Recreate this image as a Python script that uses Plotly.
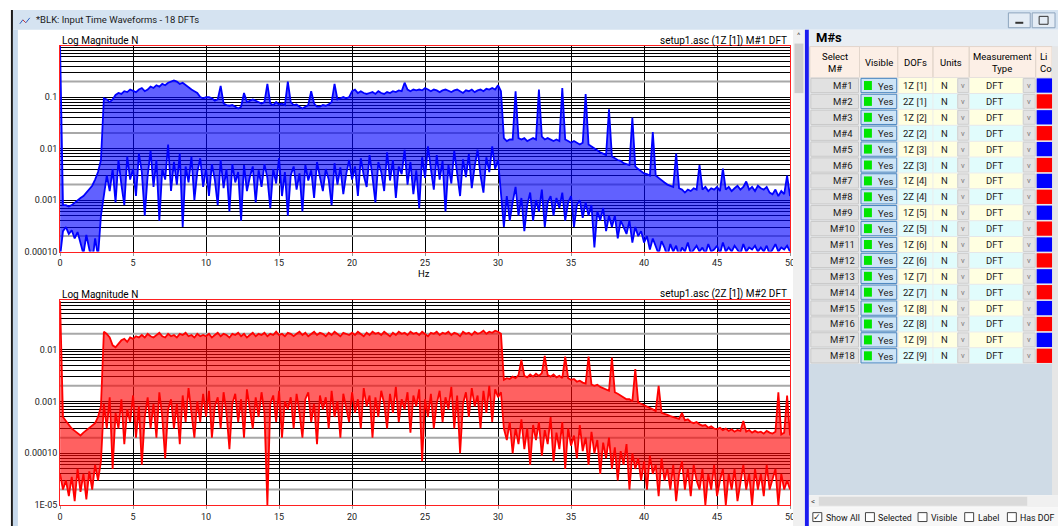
import plotly.graph_objects as go

W, H = 1063, 531
FONT = "Roboto, Noto Sans, sans-serif"

# ---------------- data ----------------
FREQ_STEP = 0.2  # Hz between spectral lines

TOP_UPPER = [
    1.0, 0.0008, 0.0008, 0.00075, 0.0008, 0.0009, 0.001, 0.0011, 0.0012, 0.0014,
    0.0016, 0.0019, 0.0025, 0.0035, 0.006, 0.095, 0.09, 0.08, 0.09, 0.11,
    0.12, 0.115, 0.13, 0.125, 0.14, 0.13, 0.125, 0.14, 0.15, 0.13,
    0.14, 0.16, 0.15, 0.17, 0.16, 0.18, 0.17, 0.19, 0.2, 0.21,
    0.2, 0.18, 0.19, 0.17, 0.15, 0.14, 0.13, 0.12, 0.1, 0.095,
    0.1, 0.1, 0.095, 0.085, 0.09, 0.165, 0.075, 0.07, 0.068, 0.07,
    0.065, 0.06, 0.065, 0.12, 0.08, 0.085, 0.09, 0.085, 0.08, 0.075,
    0.08, 0.18, 0.075, 0.07, 0.08, 0.072, 0.075, 0.07, 0.2, 0.08,
    0.07, 0.072, 0.065, 0.06, 0.065, 0.07, 0.13, 0.075, 0.065, 0.065,
    0.07, 0.068, 0.072, 0.08, 0.18, 0.09, 0.095, 0.1, 0.095, 0.1,
    0.13, 0.14, 0.12, 0.13, 0.12, 0.115, 0.12, 0.125, 0.115, 0.13,
    0.12, 0.115, 0.125, 0.12, 0.13, 0.125, 0.135, 0.13, 0.19, 0.14,
    0.13, 0.14, 0.135, 0.14, 0.135, 0.15, 0.14, 0.13, 0.14, 0.135,
    0.125, 0.135, 0.14, 0.13, 0.125, 0.135, 0.14, 0.13, 0.12, 0.135,
    0.13, 0.14, 0.125, 0.135, 0.14, 0.13, 0.145, 0.14, 0.15, 0.14,
    0.17, 0.13, 0.016, 0.014, 0.015, 0.015, 0.13, 0.016, 0.015, 0.016,
    0.014, 0.015, 0.016, 0.015, 0.14, 0.017, 0.015, 0.016, 0.015, 0.014,
    0.015, 0.014, 0.15, 0.015, 0.014, 0.013, 0.014, 0.013, 0.012, 0.013,
    0.115, 0.012, 0.011, 0.01, 0.009, 0.0085, 0.008, 0.0075, 0.058, 0.007,
    0.0065, 0.006, 0.0058, 0.0052, 0.005, 0.0048, 0.04, 0.0045, 0.004, 0.0036,
    0.0033, 0.0032, 0.003, 0.021, 0.003, 0.0027, 0.0024, 0.0022, 0.002, 0.0019,
    0.0018, 0.008, 0.0017, 0.0016, 0.0014, 0.0016, 0.0015, 0.0017, 0.0016, 0.0048,
    0.0016, 0.0018, 0.0015, 0.0017, 0.0016, 0.0018, 0.0015, 0.0041, 0.0016, 0.0018,
    0.0015, 0.0017, 0.0019, 0.0016, 0.0018, 0.0023, 0.0016, 0.0018, 0.0015, 0.0019,
    0.0017, 0.0016, 0.0018, 0.0014, 0.0013, 0.0016, 0.0012, 0.0015, 0.0013, 0.003,
    0.0012,
]

TOP_LOWER = [
    0.00008, 0.00025, 0.0003, 0.00022, 0.00026, 0.00018, 0.00024, 0.00015, 0.00009, 0.00021,
    0.00012, 0.00006, 0.00018, 0.00008, 0.0005, 0.0012, 0.003, 0.0015, 0.004, 0.0009,
    0.006, 0.002, 0.0008, 0.007, 0.0025, 0.004, 0.0012, 0.008, 0.0035, 0.0005,
    0.003, 0.009, 0.0018, 0.006, 0.0004, 0.004, 0.0025, 0.012, 0.0015, 0.0055,
    0.002, 0.008, 0.0003, 0.0045, 0.0022, 0.007, 0.001, 0.0035, 0.0065, 0.0018,
    0.004, 0.0012, 0.005, 0.0025, 0.0008, 0.006, 0.0017, 0.004, 0.0006, 0.005,
    0.0022, 0.0035, 0.0004, 0.0048, 0.0015, 0.0028, 0.0045, 0.0009, 0.0038, 0.0018,
    0.005, 0.0027, 0.0007, 0.004, 0.0021, 0.0065, 0.0012, 0.0035, 0.0005, 0.003,
    0.0045, 0.0016, 0.0033, 0.0006, 0.0048, 0.0024, 0.0038, 0.0011, 0.0055, 0.0028,
    0.0015, 0.004, 0.0025, 0.0008, 0.0052, 0.002, 0.0043, 0.0013, 0.0032, 0.006,
    0.0025, 0.0045, 0.0012, 0.0065, 0.003, 0.0018, 0.0075, 0.0028, 0.0009, 0.0055,
    0.0035, 0.0015, 0.0085, 0.0024, 0.006, 0.0011, 0.0045, 0.0032, 0.0095, 0.002,
    0.0055, 0.0013, 0.0038, 0.0007, 0.0068, 0.0027, 0.011, 0.004, 0.0016, 0.0075,
    0.0025, 0.0058, 0.0006, 0.0048, 0.0021, 0.009, 0.0035, 0.0012, 0.0062, 0.0028,
    0.0078, 0.0017, 0.0045, 0.0095, 0.003, 0.0014, 0.0068, 0.0035, 0.011, 0.004,
    0.006, 0.0015, 0.0003, 0.0012, 0.0004, 0.0009, 0.0018, 0.0005, 0.0011, 0.00025,
    0.0008, 0.0014, 0.0004, 0.001, 0.0006, 0.0016, 0.0003, 0.0009, 0.0012, 0.0005,
    0.0011, 0.0007, 0.0014, 0.0004, 0.0009, 0.0012, 0.0003, 0.0008, 0.001, 0.00045,
    0.0009, 0.0005, 0.0008, 0.00012, 0.0006, 0.0004, 0.0007, 0.00025, 0.0005, 0.0003,
    0.0005, 0.00018, 0.0004, 0.0003, 0.00022, 0.0004, 0.00015, 0.0003, 0.0002, 0.00025,
    0.00015, 0.0002, 0.00011, 0.00018, 0.00013, 0.00009, 0.00016, 0.00012, 0.00008, 0.00014,
    0.0001, 0.00013, 0.00008, 0.00012, 0.0001, 0.00015, 0.00009, 0.00011, 0.00013, 0.0001,
    0.00012, 0.00009, 0.00014, 0.0001, 0.00011, 0.00013, 0.00009, 0.00015, 0.0001, 0.00012,
    0.0001, 0.00013, 0.00011, 0.00009, 0.00014, 0.0001, 0.00012, 0.00011, 0.00013, 0.0001,
    0.00012, 0.0001, 0.00013, 0.00009, 0.00011, 0.00014, 0.0001, 0.00012, 0.00011, 0.00013,
    0.0001,
]

BOT_UPPER = [
    0.085, 0.0005, 0.00042, 0.00035, 0.0003, 0.00027, 0.00024, 0.00022, 0.00025, 0.00028,
    0.0003, 0.00035, 0.00038, 0.0005, 0.0008, 0.022, 0.02, 0.017, 0.012, 0.011,
    0.013, 0.015, 0.016, 0.014, 0.017, 0.016, 0.018, 0.017, 0.019, 0.017,
    0.02, 0.018, 0.017, 0.019, 0.021, 0.018, 0.017, 0.02, 0.018, 0.019,
    0.017, 0.02, 0.019, 0.021, 0.018, 0.019, 0.017, 0.02, 0.018, 0.019,
    0.018, 0.02, 0.017, 0.019, 0.021, 0.018, 0.02, 0.019, 0.017, 0.02,
    0.019, 0.021, 0.018, 0.02, 0.017, 0.019, 0.021, 0.018, 0.02, 0.019,
    0.021, 0.018, 0.02, 0.019, 0.022, 0.019, 0.02, 0.018, 0.021, 0.02,
    0.018, 0.02, 0.022, 0.019, 0.021, 0.018, 0.02, 0.022, 0.019, 0.021,
    0.02, 0.018, 0.021, 0.019, 0.022, 0.02, 0.018, 0.021, 0.02, 0.019,
    0.021, 0.019, 0.022, 0.02, 0.018, 0.021, 0.019, 0.022, 0.02, 0.021,
    0.019, 0.022, 0.02, 0.018, 0.021, 0.019, 0.022, 0.02, 0.021, 0.019,
    0.022, 0.02, 0.021, 0.019, 0.022, 0.02, 0.018, 0.021, 0.02, 0.022,
    0.019, 0.021, 0.02, 0.022, 0.019, 0.021, 0.02, 0.018, 0.022, 0.02,
    0.021, 0.019, 0.022, 0.02, 0.021, 0.023, 0.02, 0.022, 0.021, 0.023,
    0.022, 0.02, 0.0026, 0.0028, 0.0027, 0.003, 0.0028, 0.0032, 0.0063, 0.0031,
    0.0029, 0.0033, 0.003, 0.0034, 0.0031, 0.0035, 0.0075, 0.0032, 0.003, 0.0033,
    0.0029, 0.0031, 0.0028, 0.0073, 0.0028, 0.0026, 0.0027, 0.0024, 0.0025, 0.0023,
    0.0022, 0.0073, 0.0021, 0.002, 0.0021, 0.0019, 0.0018, 0.0017, 0.0016, 0.007,
    0.0015, 0.0014, 0.0013, 0.0012, 0.0011, 0.0011, 0.001, 0.0042, 0.00095, 0.0009,
    0.00085, 0.0008, 0.00075, 0.0007, 0.00065, 0.002, 0.0006, 0.00058, 0.00055, 0.00052,
    0.0005, 0.00048, 0.00046, 0.0006, 0.00043, 0.00045, 0.0004, 0.00038, 0.0004, 0.00036,
    0.00034, 0.00035, 0.00031, 0.00033, 0.0003, 0.00029, 0.00031, 0.00028, 0.0003, 0.00027,
    0.00029, 0.00026, 0.00028, 0.00027, 0.00042, 0.00026, 0.00028, 0.00025, 0.00027, 0.00025,
    0.00026, 0.00024, 0.00027, 0.00025, 0.00024, 0.00026, 0.0015, 0.00023, 0.00025, 0.0013,
    0.00022,
]

BOT_LOWER = [
    0.00004, 0.00002, 0.00003, 0.000015, 0.000035, 0.000012, 0.00005, 0.000018, 0.00004, 0.000013,
    0.000045, 0.00002, 0.00006, 0.00003, 0.00007, 0.0009, 0.0003, 0.0012, 0.00005, 0.0006,
    0.0003, 0.0011, 0.00015, 0.0007, 0.0004, 0.0013, 0.0002, 0.0008, 0.00006, 0.0005,
    0.0012, 0.0003, 0.0009, 0.0002, 0.0015, 0.0005, 0.00008, 0.0007, 0.0011, 0.0003,
    0.0009, 0.00015, 0.0013, 0.0004, 0.0018, 0.0006, 0.0002, 0.001, 0.0004, 0.0014,
    0.0005, 0.0016, 0.0002, 0.0008, 0.0012, 0.0003, 0.0015, 0.0006, 0.00012, 0.0009,
    0.0014, 0.0004, 0.0011, 0.0002, 0.0017, 0.0007, 0.0003, 0.0012, 0.0005, 0.0015,
    0.0006, 0.00001, 0.0009, 0.0013, 0.0004, 0.0016, 0.0002, 0.001, 0.0007, 0.0012,
    0.0003, 0.0014, 0.0006, 0.0002, 0.0011, 0.0015, 0.0004, 0.0009, 0.00015, 0.0013,
    0.0007, 0.0012, 0.0003, 0.0016, 0.0005, 0.001, 0.0002, 0.0014, 0.0008, 0.0004,
    0.0015, 0.0006, 0.0011, 0.0003, 0.0018, 0.0008, 0.0013, 0.0002, 0.0012, 0.0005,
    0.0016, 0.0009, 0.0003, 0.0014, 0.0006, 0.0019, 0.0004, 0.0011, 0.0007, 0.0015,
    0.00025, 0.0013, 0.0008, 0.0017, 0.00007, 0.0011, 0.0005, 0.0014, 0.0003, 0.0009,
    0.0016, 0.0004, 0.0012, 0.0007, 0.0019, 0.0003, 0.0013, 0.0001, 0.0009, 0.0015,
    0.0005, 0.0018, 0.0008, 0.0013, 0.0003, 0.0016, 0.0006, 0.002, 0.0004, 0.0017,
    0.0012, 0.0015, 0.0003, 0.00018, 0.0004, 0.0001, 0.0003, 0.00015, 0.00045, 0.00012,
    0.0003, 0.00006, 0.00035, 0.00018, 0.0004, 0.00009, 0.00028, 0.00015, 0.0005, 0.00007,
    0.00025, 0.00012, 0.0004, 0.00005, 0.0003, 0.00014, 0.00022, 0.00008, 0.00035, 0.00011,
    0.0002, 0.00006, 0.00026, 0.0001, 0.00018, 0.00004, 0.00016, 0.00008, 0.0002, 0.00005,
    0.00013, 0.00003, 0.00011, 0.00006, 0.00015, 0.00002, 0.0001, 0.00005, 0.00008, 0.00003,
    0.00007, 0.00002, 0.00009, 0.00004, 0.00006, 0.000015, 0.00008, 0.00003, 0.00005, 0.00002,
    0.00006, 0.000012, 0.00004, 0.00007, 0.00002, 0.00005, 0.000015, 0.00006, 0.00003, 0.00002,
    0.00005, 0.00001, 0.00004, 0.00002, 0.00006, 0.000015, 0.00003, 0.00005, 0.00001, 0.00004,
    0.00002, 0.00005, 0.000012, 0.00003, 0.00006, 0.00002, 0.00004, 0.00001, 0.00005, 0.00002,
    0.00004, 0.000015, 0.00006, 0.00002, 0.00003, 0.00005, 0.00001, 0.00004, 0.00002, 0.00003,
    0.00002,
]

X_TICKS = [0, 5, 10, 15, 20, 25, 30, 35, 40, 45, 50]
TOP_Y_TICKS = [0.1, 0.01, 0.001, 0.0001]
TOP_Y_LABELS = ["0.1", "0.01", "0.001", "0.00010"]
BOT_Y_TICKS = [0.01, 0.001, 0.0001, 0.00001]
BOT_Y_LABELS = ["0.01", "0.001", "0.00010", "1E-05"]
TOP_DECADES = [-4, -3, -2, -1]
BOT_DECADES = [-5, -4, -3, -2]

M_IDS = ["M#%d" % i for i in range(1, 19)]
DOFS = ["1Z [1]", "2Z [1]", "1Z [2]", "2Z [2]", "1Z [3]", "2Z [3]", "1Z [4]", "2Z [4]", "1Z [5]",
        "2Z [5]", "1Z [6]", "2Z [6]", "1Z [7]", "2Z [7]", "1Z [8]", "2Z [8]", "1Z [9]", "2Z [9]"]
UNITS = ["N"] * 18
MEAS = ["DFT"] * 18
LINE_COLORS = ["#0000ff" if d.startswith("1Z") else "#ff0000" for d in DOFS]


def freqs(vals):
    return [round(i * FREQ_STEP, 2) for i in range(len(vals))]


def minor_vals(decades, skip2=True):
    out = []
    for k in decades:
        for m in range(3 if skip2 else 2, 10):
            out.append(m * 10.0 ** k)
    return out


def two_vals(decades):
    return [2 * 10.0 ** k for k in decades]


# ---------------- figure ----------------
fig = go.Figure()

def X(px):
    return px / W

def Y(py):
    return 1 - py / H

def add_plot(upper, lower, color, fill, xa, ya, decades):
    # grey gridlines at 2x each decade
    gx, gy = [], []
    for v in two_vals(decades):
        gx += [0, 50, None]
        gy += [v, v, None]
    fig.add_trace(go.Scatter(x=gx, y=gy, mode="lines", line=dict(color="#a8a8a8", width=2),
                             xaxis=xa, yaxis=ya, hoverinfo="skip"))
    fig.add_trace(go.Scatter(x=freqs(lower), y=lower, mode="lines",
                             line=dict(color=color, width=1.8), xaxis=xa, yaxis=ya))
    fig.add_trace(go.Scatter(x=freqs(upper), y=upper, mode="lines", fill="tonexty",
                             fillcolor=fill, line=dict(color=color, width=1.8),
                             xaxis=xa, yaxis=ya))

add_plot(TOP_UPPER, TOP_LOWER, "#0000ff", "rgba(0,0,255,0.62)", "x", "y", TOP_DECADES)
add_plot(BOT_UPPER, BOT_LOWER, "#ff0000", "rgba(255,0,0,0.62)", "x2", "y2", BOT_DECADES)

tickfont = dict(family=FONT, size=9, color="#222")
xcommon = dict(range=[0, 50], tickvals=X_TICKS, showgrid=True, gridcolor="#000", gridwidth=1,
               showline=True, linecolor="#ff2020", linewidth=1, mirror=True, zeroline=False,
               ticks="outside", ticklen=3, tickcolor="#999", tickfont=tickfont, fixedrange=True)
ycommon = dict(type="log", showgrid=True, gridcolor="#000", gridwidth=1, showline=True,
               linecolor="#ff2020", linewidth=1, mirror=True, ticks="", tickfont=tickfont)

fig.update_layout(
    width=W, height=H, margin=dict(l=0, r=0, t=0, b=0),
    paper_bgcolor="white", plot_bgcolor="white", showlegend=False,
    xaxis=dict(domain=[X(57.5), X(793)], anchor="y", **xcommon),
    yaxis=dict(domain=[Y(254), Y(46)], anchor="x", range=[-4, 0], tickvals=TOP_Y_TICKS,
               ticktext=TOP_Y_LABELS,
               minor=dict(tickvals=minor_vals(TOP_DECADES + [0]), showgrid=True,
                          gridcolor="#000", gridwidth=1, ticks=""), **ycommon),
    xaxis2=dict(domain=[X(57.5), X(793)], anchor="y2", **xcommon),
    yaxis2=dict(domain=[Y(510), Y(303)], anchor="x2", range=[-5, -1.05], tickvals=BOT_Y_TICKS,
                ticktext=BOT_Y_LABELS,
                minor=dict(tickvals=minor_vals(BOT_DECADES + [-1]), showgrid=True,
                           gridcolor="#000", gridwidth=1, ticks=""), **ycommon),
)

shapes = []
annos = []

def rect(x0, y0, x1, y1, fill, line=None, lw=1):
    shapes.append(dict(type="rect", xref="paper", yref="paper", x0=X(x0), x1=X(x1),
                       y0=Y(y1), y1=Y(y0), fillcolor=fill, layer="above",
                       line=dict(color=line if line else "rgba(0,0,0,0)", width=lw if line else 0)))

def seg(x0, y0, x1, y1, color, lw=1):
    shapes.append(dict(type="line", xref="paper", yref="paper", x0=X(x0), x1=X(x1),
                       y0=Y(y0), y1=Y(y1), line=dict(color=color, width=lw), layer="above"))

def text(x, y, s, size=9.5, color="#000", anchor="center", bold=False, family=FONT):
    if bold:
        s = "<b>%s</b>" % s
    annos.append(dict(xref="paper", yref="paper", x=X(x), y=Y(y), text=s, showarrow=False,
                      xanchor=anchor, yanchor="middle", borderpad=0,
                      font=dict(size=size, color=color, family=family)))

# ---- window chrome (left) ----
rect(8, 10, 1063, 30, "#d5e3f1")
rect(8, 10, 10, 531, "#1a1a1a")
rect(10, 30, 15, 531, "#c7d9ec")
# small window icon
seg(17, 24, 20, 20, "#3060c0", 1)
seg(20, 20, 23, 23, "#d03030", 1)
seg(23, 23, 27, 18, "#3060c0", 1)
text(32, 20, "*BLK: Input Time Waveforms - 18 DFTs", size=9.5, color="#1a1a1a", anchor="left")
# min / max buttons
rect(1013, 13, 1035, 28, "#e4ecf5", "#8da4bd", 1)
seg(1020, 23, 1028, 23, "#333", 2)
rect(1037, 13, 1060, 28, "#e4ecf5", "#8da4bd", 1)
rect(1044, 16.5, 1053, 24.5, "rgba(0,0,0,0)", "#333", 1)

# plot headers
text(58, 41, "Log Magnitude N", size=10, anchor="left")
text(791, 41, "setup1.asc (1Z [1]) M#1 DFT", size=10, anchor="right")
text(424.5, 276, "Hz", size=9.5)
text(58, 297, "Log Magnitude N", size=10, anchor="left")
text(791, 297, "setup1.asc (2Z [1]) M#2 DFT", size=10, anchor="right")

# vertical scroll bar of plot pane
rect(796, 30, 808, 531, "#f0f0f0")
rect(797.5, 44, 806.5, 94, "#cdcdcd")
text(802, 36, "^", size=8, color="#555")
# blue splitter
rect(808, 30, 812, 531, "#1c1cf0")

# ---- right panel ----
rect(812, 30, 1063, 47, "#e9eef3")
text(818, 38, "M#s", size=13, anchor="left", bold=True)
rect(812, 47, 1063, 500, "#cfdbe6")

cols = [(813, 863), (863, 901.5), (901.5, 937), (937, 973.5), (973.5, 1040.5), (1040.5, 1057)]
rect(813, 47, 1057, 78.3, "#fcefe6")
for (a, b) in cols:
    rect(a, 47, b, 78.3, "rgba(0,0,0,0)", "#e2d6cc", 1)
text(838, 57, "Select", size=9.5)
text(838, 69, "M#", size=9.5)
text(882.5, 63, "Visible", size=9.5)
text(919, 63, "DOFs", size=9.5)
text(955.5, 63, "Units", size=9.5)
text(1007, 57, "Measurement", size=9.5)
text(1007, 69, "Type", size=9.5)
text(1044, 57, "Li", size=9.5, anchor="left")
text(1044, 69, "Co", size=9.5, anchor="left")
rect(1057, 47, 1063, 500, "#e6e6e6")

ROW0, RH = 78.3, 16.05
for i in range(len(M_IDS)):
    t = ROW0 + i * RH
    b = t + RH
    cy = (t + b) / 2
    bg = "#ffffe1" if DOFS[i].startswith("1Z") else "#e1fcfc"
    rect(813, t, 1057, b, "#ececec")
    # select button
    rect(814, t + 0.8, 862, b - 0.8, "#e1e1e1", "#c9c9c9", 1)
    text(846, cy, M_IDS[i], size=9.5, color="#222")
    # visible button
    rect(864.5, t + 0.8, 900.5, b - 0.8, "#cde4f6", "#4a86c0", 1)
    rect(867.5, t + 3.5, 875.5, b - 3.5, "#00e600")
    text(889, cy + 0.5, "Yes", size=9.5, color="#222")
    # DOFs
    rect(902.5, t + 0.5, 936.5, b - 0.5, bg)
    text(919, cy, DOFS[i], size=9.5, color="#222")
    # units
    rect(937.5, t + 0.5, 961.5, b - 0.5, bg)
    text(948.5, cy, UNITS[i], size=9.5, color="#222")
    rect(962, t + 1, 973, b - 1, "#e3e3e3", "#cfcfcf", 1)
    text(967.5, cy, "v", size=7.5, color="#777")
    # measurement type
    rect(974, t + 0.5, 1027.5, b - 0.5, bg)
    text(1000, cy, MEAS[i], size=9.5, color="#222")
    rect(1028, t + 1, 1040, b - 1, "#e3e3e3", "#cfcfcf", 1)
    text(1034, cy, "v", size=7.5, color="#777")
    # line colour
    rect(1041.5, t + 0.8, 1057, b - 0.8, LINE_COLORS[i])

# horizontal scroll bar
rect(812, 500, 1063, 512, "#f0f0f0")
rect(822, 501.5, 1032, 510.5, "#dadada")
text(816, 506, "<", size=8, color="#444")
# checkbox strip
rect(812, 512, 1063, 531, "#f7f7f7")
checks = [(816, "Show All", True), (869, "Selected", False), (922, "Visible", False),
          (969, "Label", False), (1012, "Has DOF", False)]
for (cx, label, on) in checks:
    rect(cx, 517.5, cx + 9, 526.5, "white", "#444", 1)
    if on:
        text(cx + 4.5, 522, "✓", size=9, color="#222", family="DejaVu Sans")
    text(cx + 12, 522.5, label, size=8.8, color="#111", anchor="left")

fig.update_layout(shapes=shapes, annotations=annos)
fig.write_html("out.html")
